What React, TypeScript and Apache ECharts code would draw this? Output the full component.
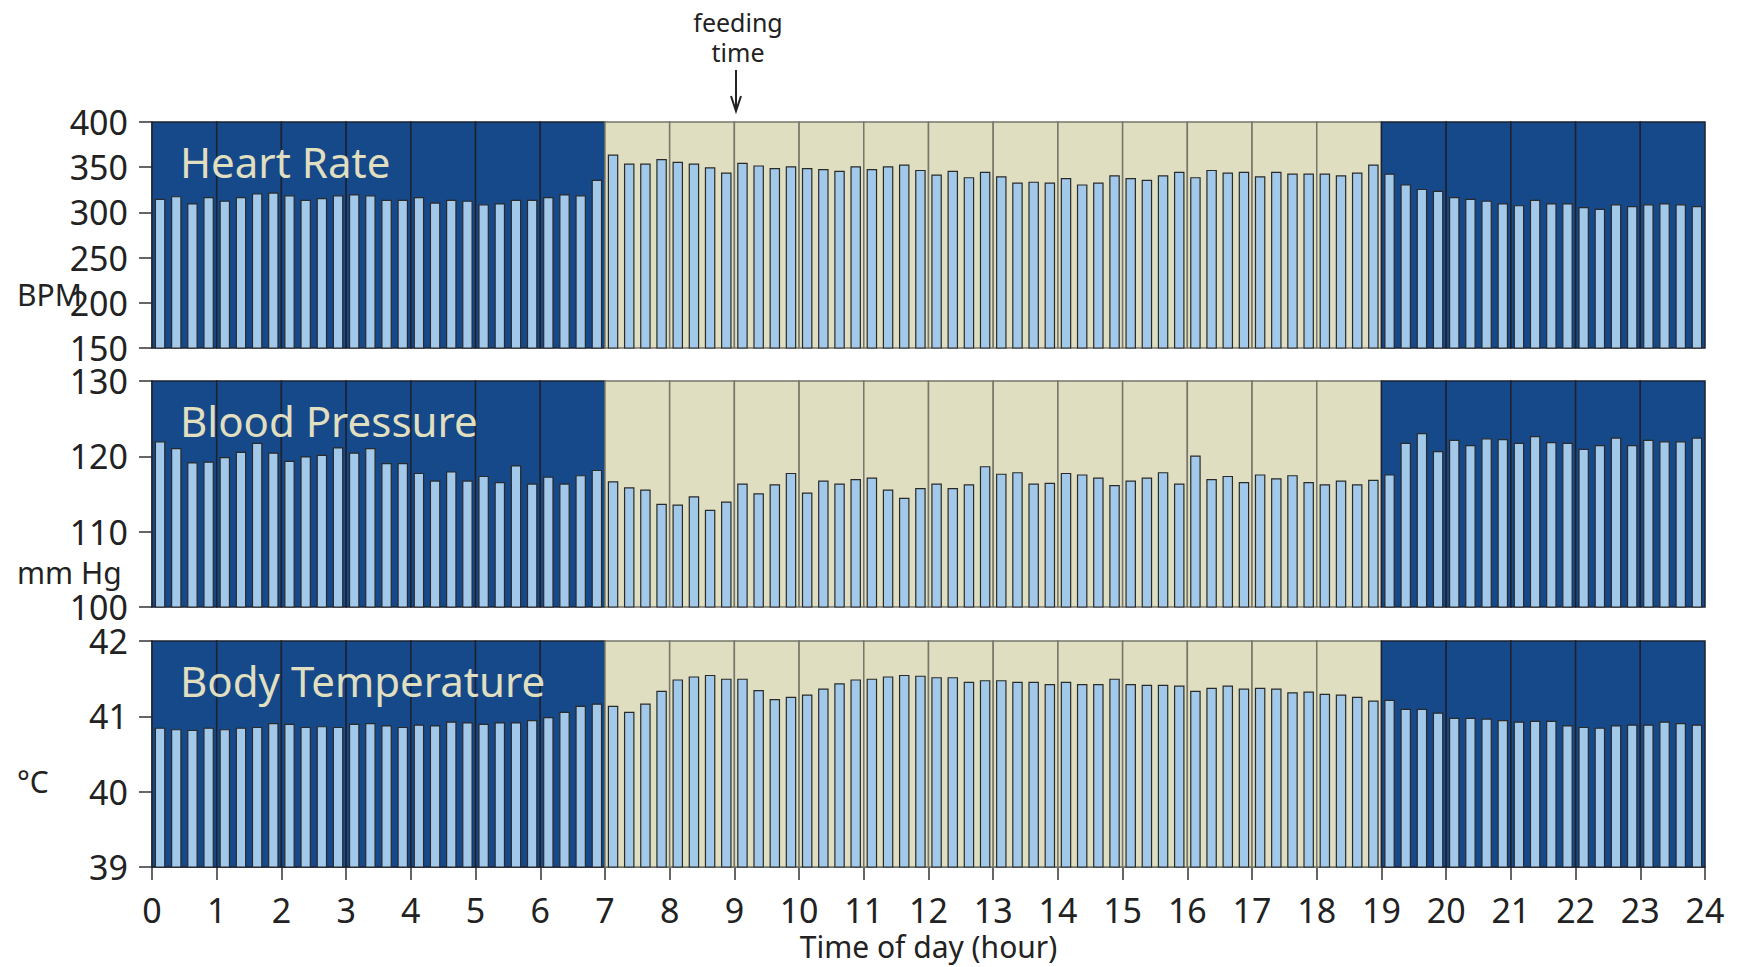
import React, { useEffect, useRef } from "react";
import * as echarts from "echarts";

// 15-minute slots (4 per hour, 24 hours)
const hours: number[] = [];
for (let h = 0; h < 24; h++) hours.push(h);
const slots: string[] = [];
hours.forEach((h) => ["00", "15", "30", "45"].forEach((m) => slots.push(`${h}:${m}`)));

const daylightStart = 7;
const daylightEnd = 19;

const heartRate = [
  315, 318, 310, 317, 313, 317, 321, 322, 319, 314, 316, 319, 320, 319, 314, 314,
  317, 311, 314, 313, 309, 310, 314, 314, 317, 320, 319, 336, 364, 354, 354, 359,
  356, 354, 350, 344, 355, 352, 349, 351, 349, 348, 346, 351, 348, 351, 353, 347,
  342, 346, 339, 345, 340, 333, 334, 333, 338, 331, 333, 341, 338, 336, 341, 345,
  339, 347, 344, 345, 340, 345, 343, 343, 343, 341, 344, 353, 343, 331, 326, 324,
  317, 315, 313, 310, 308, 314, 310, 310, 306, 304, 309, 307, 309, 310, 309, 307,
];

const bloodPressure = [
  122.0, 121.1, 119.2, 119.3, 119.9, 120.6, 121.8, 120.5, 119.4, 120.0, 120.2, 121.2,
  120.5, 121.1, 119.1, 119.1, 117.8, 116.8, 118.0, 116.8, 117.4, 116.6, 118.8, 116.4,
  117.3, 116.4, 117.5, 118.2, 116.7, 115.9, 115.6, 113.7, 113.6, 114.7, 112.9, 114.0,
  116.4, 115.1, 116.3, 117.8, 115.2, 116.8, 116.4, 117.0, 117.2, 115.6, 114.5, 115.8,
  116.4, 115.8, 116.3, 118.7, 117.7, 117.9, 116.4, 116.5, 117.8, 117.6, 117.2, 116.2,
  116.8, 117.2, 117.9, 116.4, 120.1, 117.0, 117.4, 116.6, 117.6, 117.1, 117.5, 116.6,
  116.3, 116.8, 116.3, 116.9, 117.6, 121.8, 123.1, 120.7, 122.2, 121.5, 122.4, 122.3,
  121.8, 122.7, 121.9, 121.8, 121.0, 121.5, 122.5, 121.5, 122.2, 122.0, 122.0, 122.5,
];

const bodyTemp = [
  40.85, 40.83, 40.82, 40.85, 40.83, 40.85, 40.86, 40.91, 40.9, 40.86, 40.87, 40.86,
  40.9, 40.91, 40.88, 40.86, 40.89, 40.88, 40.93, 40.92, 40.9, 40.92, 40.92, 40.95,
  40.99, 41.06, 41.14, 41.17, 41.14, 41.06, 41.17, 41.34, 41.49, 41.53, 41.55, 41.5,
  41.5, 41.35, 41.23, 41.26, 41.29, 41.37, 41.44, 41.49, 41.5, 41.53, 41.55, 41.54,
  41.52, 41.52, 41.46, 41.48, 41.48, 41.46, 41.46, 41.43, 41.46, 41.43, 41.43, 41.5,
  41.43, 41.42, 41.42, 41.41, 41.34, 41.38, 41.41, 41.37, 41.38, 41.37, 41.32, 41.33,
  41.3, 41.29, 41.26, 41.21, 41.22, 41.1, 41.1, 41.05, 40.98, 40.98, 40.97, 40.95,
  40.93, 40.94, 40.94, 40.88, 40.86, 40.85, 40.88, 40.89, 40.89, 40.93, 40.91, 40.89,
];

const panelNames = ["Heart Rate", "Blood Pressure", "Body Temperature"];
const panelUnits = ["BPM", "mm Hg", "°C"];
const panelValues = [heartRate, bloodPressure, bodyTemp];
const panelMin = [150, 100, 39];
const panelMax = [400, 130, 42];
const panelInterval = [50, 10, 1];

// layout (pixels)
const gridTops = [122, 381, 641];
const gridHeight = 226;
const gridLeft = 152;
const gridWidth = 1553;
const unitY = [294, 572, 781];

const NIGHT = "#164989";
const DAY = "#DFDEC0";
const BAR = "#A2C8EA";
const TEXT = "#222222";
const FONT = "Noto Sans";

export default function App() {
  const ref = useRef<HTMLDivElement>(null);

  useEffect(() => {
    if (!ref.current) return;
    const chart = echarts.init(ref.current, undefined, { renderer: "svg" });

    const grid = gridTops.map((t) => ({ left: gridLeft, width: gridWidth, top: t, height: gridHeight }));

    const xAxis: any[] = [];
    panelNames.forEach((_, i) => {
      xAxis.push({
        type: "category",
        gridIndex: i,
        data: slots,
        boundaryGap: true,
        show: false,
      });
      const last = i === panelNames.length - 1;
      xAxis.push({
        type: "value",
        gridIndex: i,
        min: 0,
        max: 24,
        interval: 1,
        show: last,
        position: "bottom",
        axisLine: { show: true, lineStyle: { color: "#333", width: 1.5 } },
        axisTick: { show: true, length: 13, lineStyle: { color: "#333", width: 1.5 } },
        axisLabel: { fontSize: 34, color: TEXT, fontFamily: FONT, margin: 26 },
        splitLine: { show: false },
        name: last ? "Time of day (hour)" : "",
        nameLocation: "middle",
        nameGap: 64,
        nameTextStyle: { fontSize: 30, color: TEXT, fontFamily: FONT },
      });
    });

    const yAxis = panelNames.map((_, i) => ({
      type: "value",
      gridIndex: i,
      min: panelMin[i],
      max: panelMax[i],
      interval: panelInterval[i],
      axisLine: { show: true, lineStyle: { color: "#333", width: 1.5 } },
      axisTick: { show: true, length: 13, lineStyle: { color: "#333", width: 1.5 } },
      axisLabel: { fontSize: 34, color: TEXT, fontFamily: FONT, margin: 24 },
      splitLine: { show: false },
    }));

    const series: any[] = [];
    panelNames.forEach((_, i) => {
      series.push({
        type: "custom",
        xAxisIndex: 2 * i + 1,
        yAxisIndex: i,
        silent: true,
        z: 1,
        data: hours.map((h) => [h, h + 1]),
        renderItem: (params: any, api: any) => {
          const h0 = api.value(0);
          const h1 = api.value(1);
          const x0 = api.coord([h0, panelMin[i]])[0];
          const x1 = api.coord([h1, panelMin[i]])[0];
          const cs = params.coordSys;
          const isDay = h0 >= daylightStart && h0 < daylightEnd;
          return {
            type: "rect",
            shape: { x: x0, y: cs.y, width: x1 - x0, height: cs.height },
            style: {
              fill: isDay ? DAY : NIGHT,
              stroke: isDay ? "#76766a" : "#1c2230",
              lineWidth: 1.5,
            },
          };
        },
      });
      series.push({
        type: "bar",
        xAxisIndex: 2 * i,
        yAxisIndex: i,
        z: 3,
        barWidth: "65%",
        data: panelValues[i],
        itemStyle: { color: BAR, borderColor: "#2a2a2a", borderWidth: 1.2 },
        silent: true,
      });
    });

    const graphic: any[] = [];
    panelNames.forEach((n, i) => {
      graphic.push({
        type: "text",
        x: 180,
        y: gridTops[i] + 39,
        z: 100,
        style: { text: n, fontSize: 42, fontFamily: FONT, fill: "#E0DFC0", align: "left", verticalAlign: "middle" },
      });
      graphic.push({
        type: "text",
        x: 17,
        y: unitY[i],
        z: 100,
        style: { text: panelUnits[i], fontSize: 30, fontFamily: FONT, fill: TEXT, align: "left", verticalAlign: "middle" },
      });
    });
    graphic.push({
      type: "text",
      x: 738,
      y: 37,
      z: 100,
      style: {
        text: "feeding\ntime",
        fontSize: 25,
        lineHeight: 30,
        fontFamily: FONT,
        fill: TEXT,
        align: "center",
        verticalAlign: "middle",
      },
    });
    graphic.push({
      type: "line",
      z: 100,
      shape: { x1: 736, y1: 70, x2: 736, y2: 111 },
      style: { stroke: "#222", lineWidth: 2 },
    });
    graphic.push({
      type: "polyline",
      z: 100,
      shape: { points: [[731, 96], [736, 111], [741, 96]] },
      style: { stroke: "#222", lineWidth: 2, fill: "none" },
    });

    chart.setOption({
      animation: false,
      backgroundColor: "#ffffff",
      grid,
      xAxis,
      yAxis,
      series,
      graphic,
    });

    return () => chart.dispose();
  }, []);

  return (
    <div
      ref={ref}
      style={{ position: "absolute", left: 0, top: 0, width: 1742, height: 967 }}
    />
  );
}
